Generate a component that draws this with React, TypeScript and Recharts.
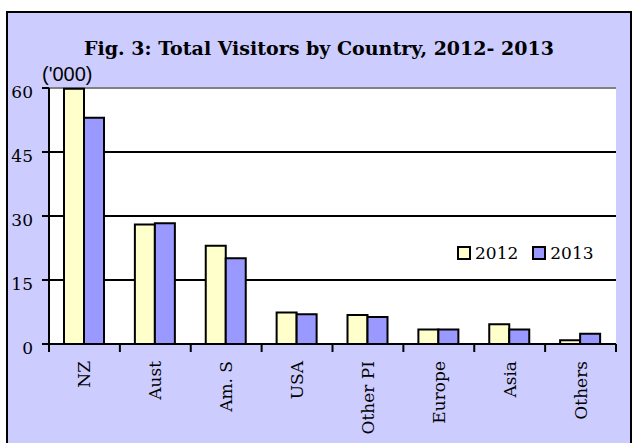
import React from 'react'
import {
  BarChart, Bar, CartesianGrid, XAxis, YAxis, Legend,
} from 'recharts'

const categories = ['NZ', 'Aust', 'Am. S', 'USA', 'Other PI', 'Europe', 'Asia', 'Others']
const visitors2012 = [59.8, 28.0, 23.0, 7.4, 6.8, 3.4, 4.6, 0.9]
const visitors2013 = [53.0, 28.3, 20.1, 7.0, 6.3, 3.4, 3.4, 2.4]
const yTicks = [0, 15, 30, 45, 60]

const data = categories.map((c, i) => ({ country: c, y2012: visitors2012[i], y2013: visitors2013[i] }))

const W = 632
const H = 443
const MARGIN = { top: 88, right: 16, left: 0, bottom: 0 }
const Y_AXIS_W = 49
const X_AXIS_H = 99
const PLOT_W = W - MARGIN.left - MARGIN.right - Y_AXIS_W
const PLOT_BOTTOM = H - MARGIN.bottom - X_AXIS_H
const BAND = PLOT_W / categories.length

const SERIF = '"DejaVu Serif", serif'
const BG = '#ccccff'

const XTick = (props: any) => {
  const { x, payload, index } = props
  const left = x - BAND / 2
  return (
    <g>
      <line x1={left} x2={left} y1={PLOT_BOTTOM} y2={PLOT_BOTTOM + 8} stroke="#000" strokeWidth={2} />
      {index === categories.length - 1 && (
        <line x1={x + BAND / 2} x2={x + BAND / 2} y1={PLOT_BOTTOM} y2={PLOT_BOTTOM + 8} stroke="#000" strokeWidth={2} />
      )}
      <text
        transform={`translate(${x + 6},${PLOT_BOTTOM + 17}) rotate(-90)`}
        textAnchor="end"
        fontFamily={SERIF}
        fontSize={17}
        fill="#000"
      >
        {payload.value}
      </text>
    </g>
  )
}

const YTick = (props: any) => {
  const { x, y, payload } = props
  return (
    <text x={x} y={y + 4} dy="0.355em" textAnchor="end" fontFamily={SERIF} fontSize={17} fill="#000">
      {payload.value}
    </text>
  )
}

const LegendBox = (props: any) => {
  const { payload } = props
  return (
    <div style={{ display: 'flex', alignItems: 'center', fontFamily: SERIF, fontSize: 17, color: '#000' }}>
      {payload.map((p: any, i: number) => (
        <div key={p.value} style={{ display: 'flex', alignItems: 'center', marginLeft: i ? 14 : 0 }}>
          <span style={{ width: 10, height: 10, border: '2px solid #000', background: p.color, marginRight: 4 }} />
          <span>{p.value}</span>
        </div>
      ))}
    </div>
  )
}

export default function App() {
  return (
    <div style={{ position: 'absolute', left: 0, top: 0, width: W, height: H, overflow: 'hidden', background: '#fff' }}>
      <div style={{
        position: 'absolute', left: 6, top: 11, width: 626, height: 440,
        boxSizing: 'border-box', border: '2px solid #000', background: BG,
      }} />
      <div style={{
        position: 'absolute', left: 0, top: 37, width: 638, textAlign: 'center',
        fontFamily: SERIF, fontWeight: 'bold', fontSize: 19, lineHeight: '22px', color: '#000',
      }}>
        Fig. 3: Total Visitors by Country, 2012- 2013
      </div>
      <div style={{
        position: 'absolute', left: 42, top: 63, fontFamily: '"Liberation Sans", Arial, sans-serif',
        fontSize: 20, lineHeight: '23px', color: '#000',
      }}>
        ('000)
      </div>
      <div style={{ position: 'absolute', left: 0, top: 0 }}>
        <BarChart width={W} height={H} data={data} margin={MARGIN} barCategoryGap={15} barGap={0}>
          <CartesianGrid
            vertical={false}
            fill="#fff"
            fillOpacity={1}
            horizontal={(p: any) => (
              <line
                key={p.key ?? `h-${p.index}`}
                x1={p.x1}
                x2={p.x2}
                y1={p.y1}
                y2={p.y2}
                stroke={p.y1 < MARGIN.top + 1 ? '#808080' : '#000'}
                strokeWidth={2}
              />
            )}
          />
          <XAxis
            dataKey="country"
            height={X_AXIS_H}
            interval={0}
            tickLine={false}
            axisLine={{ stroke: '#000', strokeWidth: 2 }}
            tick={<XTick />}
          />
          <YAxis
            domain={[0, 60]}
            ticks={yTicks}
            width={Y_AXIS_W}
            tickSize={7}
            tickMargin={9}
            axisLine={{ stroke: '#000', strokeWidth: 2 }}
            tickLine={{ stroke: '#000', strokeWidth: 2 }}
            tick={<YTick />}
          />
          <YAxis
            yAxisId="right"
            orientation="right"
            domain={[0, 60]}
            width={0}
            tick={false}
            tickLine={false}
            axisLine={{ stroke: '#808080', strokeWidth: 2 }}
          />
          <Legend
            layout="horizontal"
            verticalAlign="middle"
            align="center"
            content={<LegendBox />}
            wrapperStyle={{ position: 'absolute', left: 457, top: 243, width: 'auto' }}
          />
          <Bar dataKey="y2012" name="2012" fill="#ffffcc" stroke="#000" strokeWidth={2} isAnimationActive={false} />
          <Bar dataKey="y2013" name="2013" fill="#9999ff" stroke="#000" strokeWidth={2} isAnimationActive={false} />
        </BarChart>
      </div>
    </div>
  )
}
